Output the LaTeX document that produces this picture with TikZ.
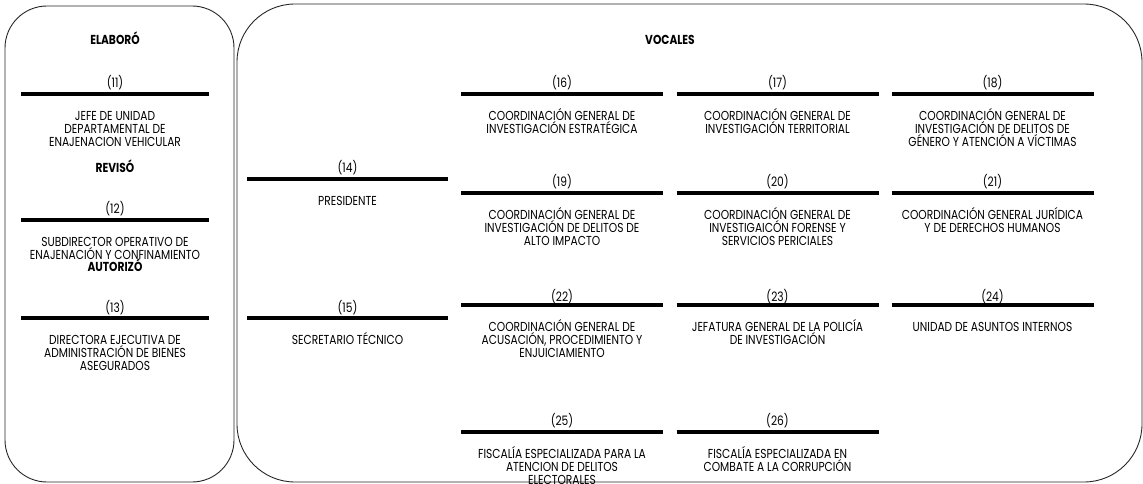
\documentclass[tikz,border=0pt]{standalone}
\usepackage{fontspec}
\setsansfont{Poppins}[FakeStretch=0.82]
\renewcommand\familydefault{\sfdefault}
\newcommand\mement[7]{%
  \coordinate (#1a) at (#2-#4,#3);
  \coordinate (#1b) at (#2+#4,#3);
  \draw[barline] (#1a) -- (#1b);
  \node[numlabel] (#1n) at (#2,#3-#7) {#5};
  \node[desc] (#1t) at (#2,#3+14) {\rule{0pt}{12pt}#6};
}
\begin{document}
\begin{tikzpicture}[x=1pt,y=-1pt,
  frame/.style={draw=black!85, line width=0.9pt, rounded corners=#1, inner sep=0pt},
  barline/.style={line width=3.6pt},
  numlabel/.style={anchor=base, inner sep=0pt, font=\fontsize{13}{13}\selectfont},
  desc/.style={anchor=north, inner sep=0pt, align=center, font=\fontsize{13}{13}\selectfont},
  title/.style={anchor=base, inner sep=0pt, font=\fontsize{13}{13}\selectfont\bfseries}]
\useasboundingbox (0,0) rectangle (1143,484);
\node[frame=42pt, minimum width=229pt, minimum height=476pt] (left) at (119.5,244) {};
\node[frame=58pt, minimum width=905pt, minimum height=478pt] (right) at (689.5,243) {};

\node[title] (elab) at (115,44.5) {ELABORÓ};
\node[title] (rev) at (115,172.5) {REVISÓ};
\node[title] (aut) at (115,271.5) {AUTORIZÓ};
\node[title] (voc) at (670,44.5) {VOCALES};

\mement{e11}{115}{94}{94}{(11)}{JEFE DE UNIDAD\\DEPARTAMENTAL DE\\ENAJENACION VEHICULAR}{6.5}
\mement{e12}{115}{220}{94}{(12)}{SUBDIRECTOR OPERATIVO DE\\ENAJENACIÓN Y CONFINAMIENTO}{6.5}
\mement{e13}{115}{318}{94}{(13)}{DIRECTORA EJECUTIVA DE\\ADMINISTRACIÓN DE BIENES\\ASEGURADOS}{6}

\mement{e14}{347.5}{179}{100.5}{(14)}{PRESIDENTE}{6.5}
\mement{e15}{347.5}{318}{100.5}{(15)}{SECRETARIO TÉCNICO}{6}

\mement{e16}{562}{94}{101}{(16)}{COORDINACIÓN GENERAL DE\\INVESTIGACIÓN ESTRATÉGICA}{6.5}
\mement{e17}{777.5}{94}{101}{(17)}{COORDINACIÓN GENERAL DE\\INVESTIGACIÓN TERRITORIAL}{6.5}
\mement{e18}{992.5}{94}{101}{(18)}{COORDINACIÓN GENERAL DE\\INVESTIGACIÓN DE DELITOS DE\\GÉNERO Y ATENCIÓN A VÍCTIMAS}{6.5}

\mement{e19}{562}{193}{101}{(19)}{COORDINACIÓN GENERAL DE\\INVESTIGACIÓN DE DELITOS DE\\ALTO IMPACTO}{6.5}
\mement{e20}{777.5}{193}{101}{(20)}{COORDINACIÓN GENERAL DE\\INVESTIGAICÓN FORENSE Y\\SERVICIOS PERICIALES}{6.5}
\mement{e21}{992.5}{193}{101}{(21)}{COORDINACIÓN GENERAL JURÍDICA\\Y DE DERECHOS HUMANOS}{6.5}

\mement{e22}{562}{305}{101}{(22)}{COORDINACIÓN GENERAL DE\\ACUSACIÓN, PROCEDIMIENTO Y\\ENJUICIAMIENTO}{4}
\mement{e23}{777.5}{305}{101}{(23)}{JEFATURA GENERAL DE LA POLICÍA\\DE INVESTIGACIÓN}{4}
\mement{e24}{992.5}{305}{101}{(24)}{UNIDAD DE ASUNTOS INTERNOS}{4}

\mement{e25}{562}{432}{101}{(25)}{FISCALÍA ESPECIALIZADA PARA LA\\ATENCION DE DELITOS\\ELECTORALES}{6.5}
\mement{e26}{777.5}{432}{101}{(26)}{FISCALÍA ESPECIALIZADA EN\\COMBATE A LA CORRUPCIÓN}{6.5}
\end{tikzpicture}
\end{document}
